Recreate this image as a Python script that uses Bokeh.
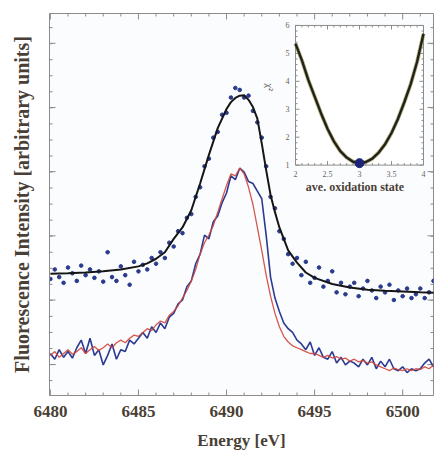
import numpy as np
from bokeh.plotting import figure
from bokeh.models import Range1d, FixedTicker
from bokeh.embed import file_html
from bokeh.resources import INLINE
from bokeh.core.properties import value

# ---------------- data ----------------
E_START = 6480.0
E_STEP = 0.25

dot_values = [
    30.5, 33.0, 31.0, 29.5, 33.5, 32.0, 30.0, 34.0,
    31.5, 33.0, 30.8, 32.5, 29.8, 37.5, 31.0, 30.0,
    33.8, 31.5, 29.0, 35.0, 32.5, 34.2, 33.0, 36.0,
    34.5, 37.5, 36.0, 40.0, 39.0, 43.0, 42.5, 46.5,
    47.5, 52.0, 54.5, 60.0, 62.0, 67.5, 69.0, 73.5,
    74.0, 78.0, 80.5, 80.0, 78.0, 78.5, 74.5, 71.5,
    67.5, 60.0, 52.0, 49.0, 43.0, 41.0, 37.0, 34.5,
    36.0, 31.5, 35.0, 29.5, 30.8, 33.5, 28.5, 30.0,
    32.5, 27.0, 29.5, 26.5, 28.5, 29.5, 26.0, 28.0,
    30.0, 27.5, 25.5, 28.5, 27.0, 29.0, 25.0, 27.5,
    26.0, 28.0, 25.5, 26.5, 28.0, 25.5, 27.0, 30.0,
    27.0,
]

fit_energy = [6480, 6481, 6482, 6483, 6484, 6485, 6485.5, 6486, 6486.5, 6487,
              6487.5, 6488, 6488.5, 6489, 6489.5, 6490, 6490.25, 6490.5, 6490.75,
              6491, 6491.25, 6491.5, 6491.75, 6492, 6492.25, 6492.5, 6492.75,
              6493, 6493.5, 6494, 6494.5, 6495, 6496, 6497, 6498, 6499, 6500,
              6501, 6502]
fit_values = [31.9, 32.0, 32.2, 32.5, 33.0, 33.8, 34.6, 35.8, 37.5, 41.0,
              44.0, 48.5, 55.5, 63.0, 70.0, 75.0, 76.8, 77.9, 78.5,
              78.6, 77.4, 75.5, 72.5, 66.0, 59.0, 52.5, 48.0,
              44.0, 38.0, 34.8, 32.2, 30.8, 29.2, 28.3, 27.7, 27.4, 27.2,
              27.0, 26.9]

red_values = [
    10.5, 11.5, 10.0, 11.0, 12.0, 10.8, 11.5, 12.5,
    11.0, 12.0, 12.8, 11.8, 12.5, 13.5, 12.5, 13.8,
    14.5, 13.8, 15.0, 15.8, 15.5, 16.5, 17.5, 17.0,
    18.5, 19.5, 19.0, 21.0, 22.0, 23.5, 25.5, 27.5,
    30.0, 33.0, 37.0, 40.0, 42.0, 44.5, 48.0, 51.5,
    55.0, 58.0, 57.5, 59.5, 58.0, 54.5, 50.0, 44.0,
    38.0, 31.5, 26.0, 21.5, 18.0, 15.5, 14.0, 13.0,
    12.5, 12.0, 11.5, 11.0, 11.0, 10.5, 10.0, 10.5,
    9.8, 10.2, 9.5, 9.8, 9.0, 9.5, 8.8, 9.2,
    8.5, 8.8, 8.0, 7.5, 7.0, 6.5, 7.2, 6.8,
    6.5, 7.0, 6.5, 7.0, 6.8, 7.5, 7.0, 8.0,
    7.5,
]

blue_values = [
    11.0, 9.5, 12.0, 10.0, 11.5, 9.8, 12.5, 14.5,
    11.0, 15.0, 10.5, 12.0, 8.0, 10.5, 13.5, 9.5,
    12.0, 11.5, 14.5, 13.5, 15.0, 16.5, 15.0, 18.0,
    16.5, 19.0, 17.5, 20.5, 21.5, 24.0, 25.0, 28.5,
    30.0, 34.5, 37.0, 42.0, 41.0, 45.5, 47.0, 50.5,
    53.0, 57.5, 56.5, 59.5, 58.5, 56.0, 55.5, 53.5,
    51.5, 42.0, 31.0, 25.5, 22.0, 19.0, 17.5, 16.5,
    14.5, 13.5, 12.0, 14.0, 10.5, 12.5, 10.0, 9.5,
    11.5, 8.5, 10.0, 8.0, 9.0, 8.5, 7.5, 9.5,
    8.0, 10.0, 7.0, 9.0, 7.5, 9.5, 7.0, 6.5,
    7.5, 6.0, 7.0, 6.5, 7.0, 8.5, 9.5, 7.5,
    9.0,
]

ox_state = [2.0, 2.1, 2.2, 2.3, 2.4, 2.5, 2.6, 2.7, 2.8, 2.9, 3.0,
            3.1, 3.2, 3.3, 3.4, 3.5, 3.6, 3.7, 3.8, 3.9, 4.0]
chi2 = [5.35, 4.75, 4.05, 3.45, 2.85, 2.30, 1.85, 1.50, 1.27, 1.12, 1.07,
        1.11, 1.23, 1.45, 1.75, 2.15, 2.65, 3.25, 3.90, 4.70, 5.70]
min_ox = [3.0]
min_chi2 = [1.07]

x_ticks = [6480, 6485, 6490, 6495, 6500]
x_minor = list(range(6480, 6503))
y_ticks = [8.1, 25.0, 41.8, 58.6, 75.4, 92.2]
y_minor = [3.9 + 4.2 * i for i in range(24)]
inset_x_ticks = [2.0, 2.5, 3.0, 3.5, 4.0]
inset_x_labels = ["2", "2.5", "3", "3.5", "4"]
inset_y_ticks = [1, 2, 3, 4, 5, 6]
inset_y_labels = ["1", "2", "3", "4", "5", "6"]

# ---------------- layout constants ----------------
W, H = 438, 452
FL, FR, FT, FB = 49, 433, 13, 396          # frame in figure pixels
X0, X1 = 6479.95, 6501.75
Y0, Y1 = 0.0, 100.0
IL, IR, IT, IB = 295, 423, 25, 165          # inset frame in figure pixels
IX0, IX1, IY0, IY1 = 2.0, 4.0, 1.0, 6.0

fw, fh = FR - FL, FB - FT
fl = (IL - FL) / fw
fr = (IR - FL) / fw
fb = (FB - IB) / fh
ft = (FB - IT) / fh
xspan = (IX1 - IX0) / (fr - fl)
xs0 = IX0 - fl * xspan
yspan = (IY1 - IY0) / (ft - fb)
ys0 = IY0 - fb * yspan
px_x = xspan / fw     # inset data per pixel
px_y = yspan / fh
mx = (X1 - X0) / fw   # main data per pixel
my = (Y1 - Y0) / fh

TEXT = "#4a3f36"
TICK = "#8c8c8c"
SERIF = "Liberation Serif"

p = figure(width=W, height=H, output_backend="svg", toolbar_location=None,
           x_range=Range1d(X0, X1), y_range=Range1d(Y0, Y1),
           min_border_left=FL, min_border_right=W - FR,
           min_border_top=FT, min_border_bottom=H - FB)
p.background_fill_color = "#fbfcfe"
p.border_fill_color = "white"
p.outline_line_color = TICK
p.grid.visible = False

p.extra_x_ranges = {"ix": Range1d(xs0, xs0 + xspan)}
p.extra_y_ranges = {"iy": Range1d(ys0, ys0 + yspan)}

xa = p.xaxis[0]
xa.ticker = FixedTicker(ticks=x_ticks, minor_ticks=[])
xa.axis_line_color = TICK
xa.major_tick_line_color = TICK
xa.major_tick_in = 0
xa.major_tick_out = 0
xa.major_label_text_font = SERIF
xa.major_label_text_font_style = "bold"
xa.major_label_text_color = TEXT
xa.major_label_text_font_size = "17px"
xa.major_label_standoff = 10
xa.axis_label = "Energy [eV]"
xa.axis_label_text_font = SERIF
xa.axis_label_text_font_style = "bold"
xa.axis_label_text_font_size = "17px"
xa.axis_label_text_color = TEXT
xa.axis_label_standoff = 11

ya = p.yaxis[0]
ya.ticker = FixedTicker(ticks=[], minor_ticks=[])
ya.axis_line_color = TICK
ya.axis_label = "Fluorescence Intensity [arbitrary units]"
ya.axis_label_text_font = SERIF
ya.axis_label_text_font_style = "bold"
ya.axis_label_text_font_size = "20px"
ya.axis_label_text_color = TEXT
ya.axis_label_standoff = 17

# main ticks, inside, on all four sides
x0s, y0s, x1s, y1s = [], [], [], []
for t in x_minor:
    L = (6 if t in x_ticks else 3) * my
    x0s += [t, t]; x1s += [t, t]
    y0s += [Y0, Y1]; y1s += [Y0 + L, Y1 - L]
for t in y_minor + y_ticks:
    L = (6 if t in y_ticks else 3) * mx
    y0s += [t, t]; y1s += [t, t]
    x0s += [X0, X1]; x1s += [X0 + L, X1 - L]
p.segment(x0=x0s, y0=y0s, x1=x1s, y1=y1s, line_color=TICK, line_width=1)

energies = E_START + E_STEP * np.arange(len(dot_values))
e_red = E_START + E_STEP * np.arange(len(red_values))
e_blue = E_START + E_STEP * np.arange(len(blue_values))

# lower spectra
p.line(e_blue, blue_values, line_color="#2d3a92", line_width=1.6)
p.line(e_red, red_values, line_color="#d0453a", line_width=1.3, line_alpha=0.9)
# upper spectrum
p.scatter(energies, dot_values, size=3.6, marker="circle",
          fill_color="#2a3a8c", line_color="#2a3a8c")
p.line(fit_energy, fit_values, line_color="#161616", line_width=2)

# ---------------- inset ----------------
R = dict(x_range_name="ix", y_range_name="iy")
p.quad(left=[IX0], right=[IX1], bottom=[IY0], top=[IY1],
       fill_color="white", line_color=TICK, line_width=1, **R)

x_min_t = [2.0 + 0.1 * i for i in range(21)]
y_min_t = [1.0 + 0.2 * i for i in range(26)]
a0, b0, a1, b1 = [], [], [], []
for t in x_min_t:
    L = (4 if any(abs(t - m) < 1e-6 for m in inset_x_ticks) else 2) * px_y
    a0 += [t, t]; a1 += [t, t]
    b0 += [IY0, IY1]; b1 += [IY0 + L, IY1 - L]
for t in y_min_t:
    L = (4 if any(abs(t - m) < 1e-6 for m in inset_y_ticks) else 2) * px_x
    b0 += [t, t]; b1 += [t, t]
    a0 += [IX0, IX1]; a1 += [IX0 + L, IX1 - L]
p.segment(x0=a0, y0=b0, x1=a1, y1=b1, line_color=TICK, line_width=1, **R)

p.line(ox_state, chi2, line_color="#8a8a3a", line_width=4, line_alpha=0.6, **R)
p.line(ox_state, chi2, line_color="#22221a", line_width=2.4, **R)
p.scatter(min_ox, min_chi2, size=9, marker="circle",
          fill_color="#1c2478", line_color="#1c2478", **R)

p.text(x=inset_x_ticks, y=[IY0 - 9 * px_y] * len(inset_x_ticks), text=inset_x_labels,
       text_font=value(SERIF), text_font_size="8px", text_color="#6a6258",
       text_align="center", text_baseline="middle", **R)
p.text(x=[IX0 - 8 * px_x] * len(inset_y_ticks), y=inset_y_ticks, text=inset_y_labels,
       text_font=value(SERIF), text_font_size="8px", text_color="#6a6258",
       text_align="center", text_baseline="middle", **R)
p.text(x=[2.93], y=[IY0 - 22 * px_y], text=["ave. oxidation state"],
       text_font=value(SERIF), text_font_style="bold", text_font_size="12px",
       text_color=TEXT, text_align="center", text_baseline="middle", **R)
p.text(x=[IX0 - 26 * px_x], y=[IY1 - 62 * px_y], text=["χ²"],
       text_font=value(SERIF), text_font_size="10px", text_color=TEXT,
       text_align="center", text_baseline="middle", angle=-np.pi / 2, **R)

open("out.html", "w").write(file_html(p, INLINE))
